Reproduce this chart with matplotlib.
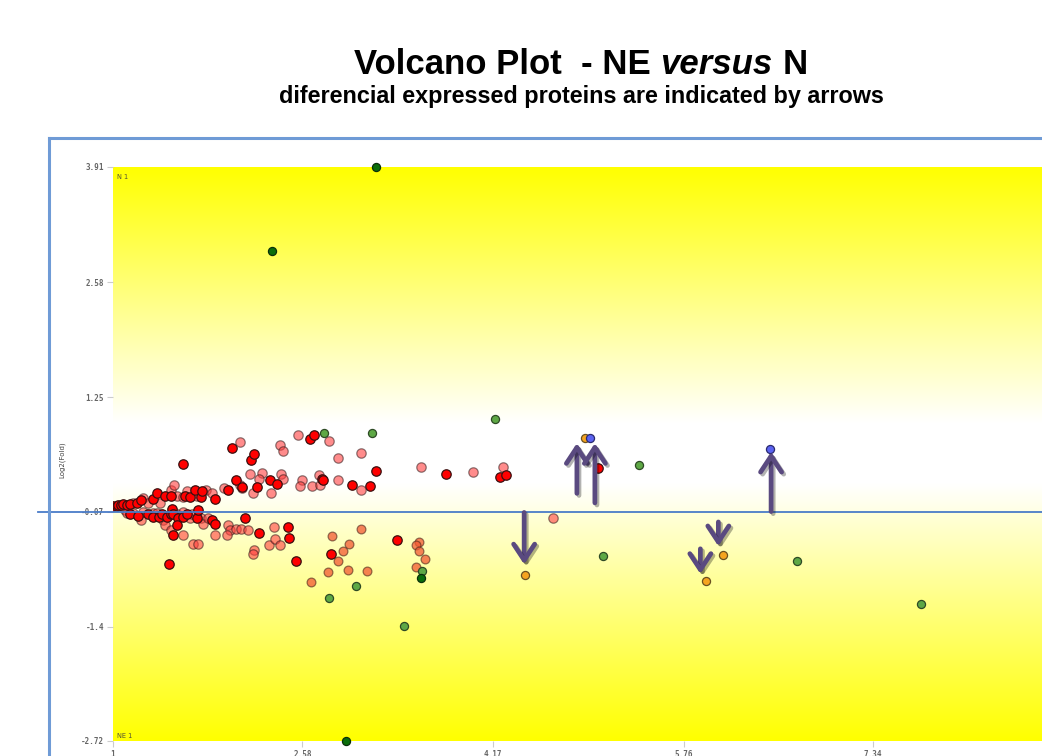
import numpy as np
import matplotlib
matplotlib.use('Agg')
import matplotlib.pyplot as plt
from matplotlib.lines import Line2D
import matplotlib.patheffects as pe

# strongly expressed red proteins (x, log2 fold)
strong_x = [1.00, 1.03, 1.04, 1.07, 1.08, 1.12, 1.14, 1.20, 1.23, 1.33, 1.37, 1.43, 1.48, 1.60, 1.64,
            1.68, 1.73, 1.74, 1.85, 1.96,
            1.14, 1.21, 1.29, 1.33, 1.38, 1.41, 1.45, 1.48, 1.49, 1.50, 1.54, 1.53, 1.58, 1.62, 1.70,
            1.71, 1.83, 1.85, 1.50,
            1.58, 1.99, 2.15, 2.18, 2.64, 2.68, 2.74, 2.31, 2.37, 2.20, 2.99, 3.14, 3.19, 3.78, 4.23,
            4.28, 5.05, 2.10, 2.46, 2.47, 2.22, 2.53, 2.82, 1.47, 3.37, 2.03, 2.08, 2.75]
strong_y = [-0.01, 0.00, 0.01, 0.01, 0.02, 0.01, 0.02, 0.03, 0.06, 0.07, 0.14, 0.11, 0.11, 0.11, 0.10,
            0.18, 0.10, 0.17, 0.08, 0.18,
            -0.10, -0.12, -0.10, -0.13, -0.13, -0.10, -0.13, -0.10, -0.04, -0.10, -0.15, -0.23, -0.13, -0.10, -0.15,
            -0.05, -0.17, -0.21, -0.34,
            0.48, 0.67, 0.53, 0.59, 0.77, 0.82, 0.31, 0.30, 0.25, 0.21, 0.24, 0.23, 0.40, 0.36, 0.33,
            0.35, 0.43, -0.15, -0.25, -0.38, -0.32, -0.64, -0.56, -0.67, -0.40, 0.29, 0.21, 0.29]

# pale red proteins
weak_x = [1.17, 1.25, 1.29, 1.39, 1.48, 1.51, 1.53, 1.58, 1.62, 1.70, 1.78, 1.83, 1.93,
          1.10, 1.12, 1.17, 1.23, 1.25, 1.33, 1.37, 1.42, 1.53, 1.58, 1.64, 1.66, 1.73, 1.75, 1.79,
          1.43, 1.48, 1.58, 1.67, 1.71, 1.85, 1.96, 1.98, 1.95,
          2.06, 2.54, 2.39, 2.42, 2.80, 2.88, 3.07, 2.14, 2.24, 2.22, 2.40, 2.42, 2.58, 2.56, 2.66,
          2.73, 2.72, 2.88, 3.07, 3.57, 4.00, 4.25, 2.32, 2.17, 2.06, 2.08,
          2.03, 2.07, 2.13, 2.18, 2.17, 2.34, 2.30, 2.35, 2.39, 4.67]
weak_y = [0.03, 0.09, 0.03, 0.03, 0.18, 0.24, 0.11, 0.10, 0.17, 0.11, 0.18, 0.14, 0.20,
          -0.05, -0.09, -0.09, -0.17, -0.08, -0.09, -0.09, -0.17, -0.10, -0.07, -0.14, -0.10, -0.15, -0.21, -0.15,
          -0.22, -0.28, -0.34, -0.44, -0.44, -0.34, -0.22, -0.28, -0.34,
          0.73, 0.82, 0.70, 0.63, 0.75, 0.55, 0.61, 0.36, 0.37, 0.31, 0.36, 0.31, 0.30, 0.22, 0.22,
          0.24, 0.35, 0.29, 0.18, 0.45, 0.39, 0.45, 0.14, 0.14, 0.24, 0.20,
          -0.27, -0.27, -0.28, -0.51, -0.56, -0.25, -0.46, -0.39, -0.46, -0.15]

# salmon proteins below the line
low_x = [3.07, 2.83, 2.97, 2.92, 2.88, 2.96, 2.79, 3.12, 2.65, 3.55, 3.53, 3.55, 3.60, 3.53]
low_y = [-0.27, -0.35, -0.45, -0.53, -0.64, -0.74, -0.77, -0.76, -0.88, -0.42, -0.46, -0.53, -0.62, -0.71]

green_x = [2.76, 3.16, 4.19, 5.39, 5.09, 6.71, 7.74, 3.43, 2.80, 3.03, 3.58]
green_y = [0.84, 0.84, 1.00, 0.47, -0.58, -0.64, -1.14, -1.39, -1.07, -0.93, -0.76]

dgreen_x = [2.33, 3.19, 2.94, 3.57]
dgreen_y = [2.94, 3.91, -2.72, -0.84]

orange_x = [4.44, 4.94, 5.95, 6.09]
orange_y = [-0.80, 0.78, -0.87, -0.57]

blue_x = [4.98, 6.48]
blue_y = [0.78, 0.65]

# arrows marking differential proteins
arrow_x = [4.87, 5.02, 6.49, 4.43, 5.90, 6.05]
arrow_from = [0.14, 0.03, -0.07, -0.08, -0.50, -0.19]
arrow_to = [0.72, 0.72, 0.62, -0.68, -0.79, -0.47]

yticks = [3.91, 2.58, 1.25, -0.07, -1.4, -2.72]
xticks = [1, 2.58, 4.17, 5.76, 7.34]
zero_line = -0.07

W, H = 1042, 756
fig = plt.figure(figsize=(W / 100, H / 100), dpi=100)
fig.patch.set_facecolor('white')

ax = fig.add_axes([113 / W, 15 / H, 929 / W, 574 / H])
ax.set_xlim(1, 8.75)
ax.set_ylim(-2.72, 3.91)
for s in ax.spines.values():
    s.set_visible(False)

# yellow background gradient
yy = np.linspace(-2.72, 3.91, 600)
white = np.where(yy >= zero_line,
                 np.interp(yy, [zero_line, 0.25, 0.95, 3.91], [0.9, 1.0, 1.0, 0.0]),
                 np.interp(yy, [-2.72, zero_line], [0.0, 0.86]))
grad = np.ones((len(yy), 1, 3))
grad[:, 0, 2] = white
ax.imshow(grad, extent=[1, 8.75, -2.72, 3.91], aspect='auto', origin='lower', zorder=0,
          interpolation='bilinear')

ax.scatter(weak_x, weak_y, s=46, facecolor=(1, 0.25, 0.25, 0.6), edgecolor=(0.2, 0.1, 0.1, 0.55),
           lw=0.9, zorder=2)
ax.scatter(strong_x, strong_y, s=46, facecolor='#ff0000', edgecolor='#3a1010', lw=0.9, zorder=3)
ax.scatter(low_x, low_y, s=40, facecolor=(0.95, 0.35, 0.2, 0.75), edgecolor=(0.3, 0.15, 0.1, 0.6),
           lw=0.9, zorder=3)
ax.scatter(green_x, green_y, s=34, facecolor='#5ea845', edgecolor='#2e4a25', lw=0.9, zorder=3,
           clip_on=False)
ax.scatter(dgreen_x, dgreen_y, s=34, facecolor='#0b6e0b', edgecolor='#0a300a', lw=0.9, zorder=3,
           clip_on=False)
ax.scatter(orange_x, orange_y, s=34, facecolor='#f5a41f', edgecolor='#6a5020', lw=0.9, zorder=3)
ax.scatter(blue_x, blue_y, s=34, facecolor='#5b63f0', edgecolor='#2a2a70', lw=0.9, zorder=3)

ax.axhline(zero_line, xmin=-(113 - 38) / 929, xmax=1, color='#4a7cc8', lw=1.3, clip_on=False,
           zorder=4)

for x, y0, y1 in zip(arrow_x, arrow_from, arrow_to):
    ax.annotate('', xy=(x, y1), xytext=(x, y0),
                arrowprops=dict(arrowstyle='->,head_length=0.5,head_width=0.33', color='#5a4a80',
                                lw=3.4, shrinkA=0, shrinkB=0, mutation_scale=23,
                                path_effects=[pe.SimpleLineShadow(offset=(1.5, -1.5), alpha=0.3),
                                              pe.Normal()]),
                zorder=5)

ax.set_yticks(yticks)
ax.set_yticklabels([str(v) for v in yticks], family='DejaVu Sans Mono', fontweight='bold')
ax.set_xticks(xticks)
ax.set_xticklabels([str(v) for v in xticks], family='DejaVu Sans Mono', fontweight='bold')
ax.tick_params(length=4.5, width=0.8, color='#cccccc', labelsize=5.5, labelcolor='#666666', pad=2)

ax.text(0.004, 0.988, 'N 1', transform=ax.transAxes, fontsize=4.8, color='#555533', va='top')
ax.text(0.004, 0.004, 'NE 1', transform=ax.transAxes, fontsize=4.8, color='#555533', va='bottom')

fig.text(62 / W, 1 - 460 / H, 'Log2(Fold)', rotation=90, fontsize=5, color='#444444',
         ha='center', va='center')

# frame of the surrounding box
blue = '#6f9bd6'
fig.add_artist(Line2D([49 / W, 49 / W], [0, 1 - 138 / H], color=blue, lw=2.2))
fig.add_artist(Line2D([49 / W, 1], [1 - 138 / H, 1 - 138 / H], color=blue, lw=2.2))

# title with italic "versus"
tfont = ['Liberation Sans', 'DejaVu Sans']
parts = [('Volcano Plot  - NE', 'normal'), ('versus', 'italic'), ('N', 'normal')]
texts = [fig.text(0, 1 - 73.5 / H, p, fontsize=25, fontweight='bold', style=st, family=tfont,
                  va='baseline') for p, st in parts]
fig.canvas.draw()
r = fig.canvas.get_renderer()
sp = fig.text(0, 0, 'x x', fontsize=25, fontweight='bold', family=tfont)
sp2 = fig.text(0, 0, 'xx', fontsize=25, fontweight='bold', family=tfont)
space = sp.get_window_extent(r).width - sp2.get_window_extent(r).width
sp.remove()
sp2.remove()
widths = [t.get_window_extent(r).width for t in texts]
total = sum(widths) + 2 * space
x0 = 581 - total / 2
for t, w in zip(texts, widths):
    t.set_x(x0 / W)
    x0 += w + space

fig.text(581.5 / W, 1 - 103 / H, 'diferencial expressed proteins are indicated by arrows',
         fontsize=16.8, fontweight='bold', family=tfont, ha='center', va='baseline')

fig.savefig('out.png', dpi=100)
